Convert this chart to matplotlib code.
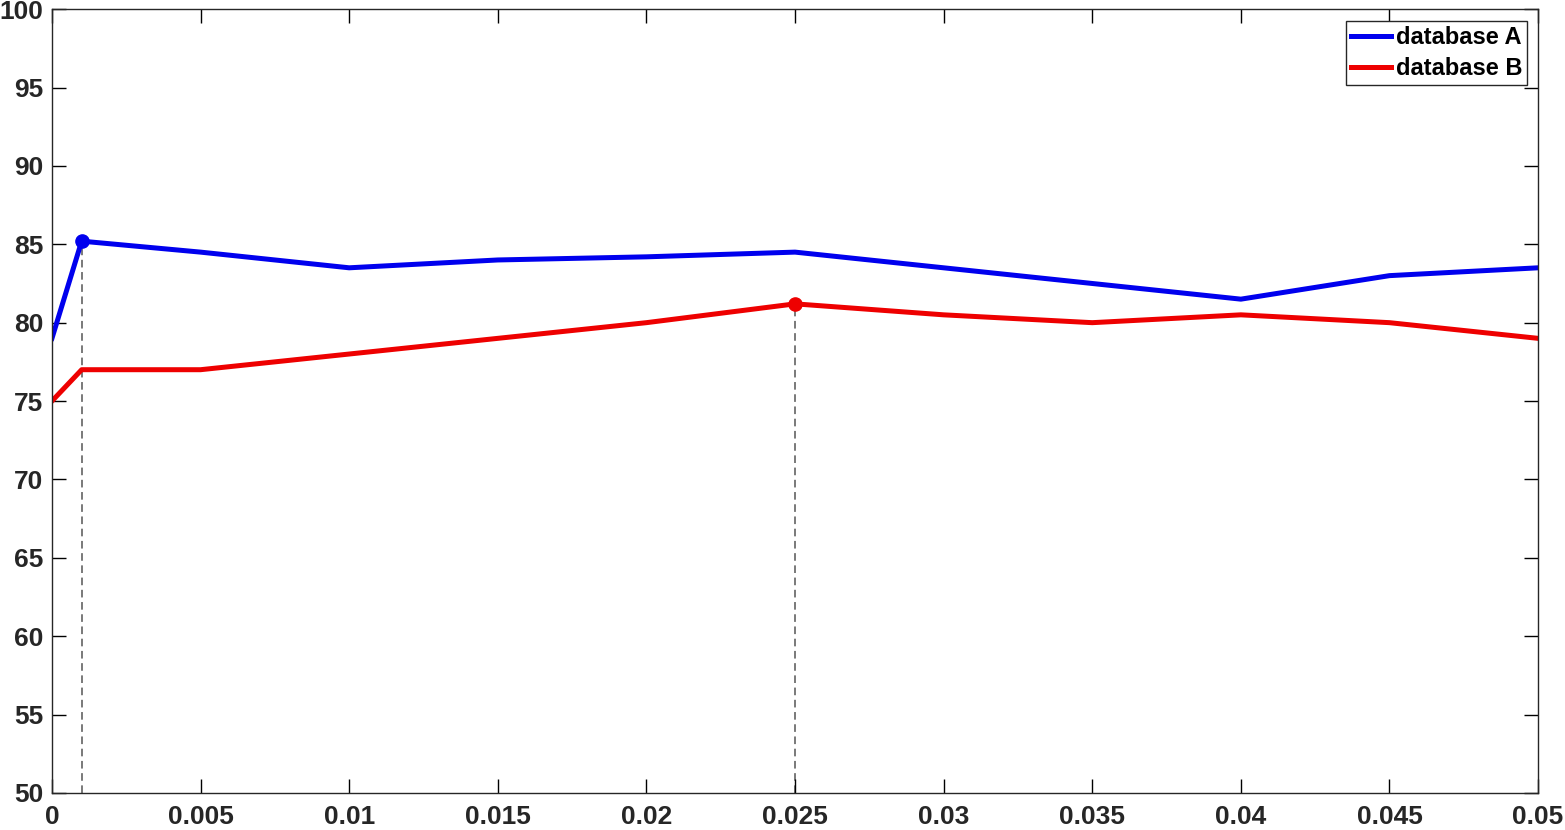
import numpy as np
import matplotlib
matplotlib.use('Agg')
from matplotlib import pyplot as plt

# values
x = [0, 0.001, 0.005, 0.01, 0.015, 0.02, 0.025, 0.03, 0.035, 0.04, 0.045, 0.05]
db_a = [79.0, 85.2, 84.5, 83.5, 84.0, 84.2, 84.5, 83.5, 82.5, 81.5, 83.0, 83.5]
db_b = [75.0, 77.0, 77.0, 78.0, 79.0, 80.0, 81.2, 80.5, 80.0, 80.5, 80.0, 79.0]
labels = ['database A', 'database B']
xticks = [0, 0.005, 0.01, 0.015, 0.02, 0.025, 0.03, 0.035, 0.04, 0.045, 0.05]
xticklabels = ['0', '0.005', '0.01', '0.015', '0.02', '0.025', '0.03', '0.035', '0.04', '0.045', '0.05']
yticks = list(range(50, 101, 5))

plt.rcParams['font.family'] = ['Liberation Sans', 'DejaVu Sans']

fig = plt.figure(figsize=(15.65, 8.3), dpi=100)
ax = fig.add_axes([0.0332, 0.0446, 0.9496, 0.9444])

ax.plot(x, db_a, color='#0000ee', lw=3.6, label=labels[0])
ax.plot(x, db_b, color='#ee0000', lw=3.6, label=labels[1])

# peak markers with dashed drop lines
ia = int(np.argmax(db_a))
ib = int(np.argmax(db_b))
ax.plot([x[ia], x[ia]], [50, db_a[ia]], ls=(0, (5, 3)), color='#555555', lw=1.1, zorder=1)
ax.plot([x[ib], x[ib]], [50, db_b[ib]], ls=(0, (5, 3)), color='#555555', lw=1.1, zorder=1)
ax.plot(x[ia], db_a[ia], 'o', color='#0000ee', ms=9.5)
ax.plot(x[ib], db_b[ib], 'o', color='#ee0000', ms=9.5)

ax.set_xlim(0, 0.05)
ax.set_ylim(50, 100)
ax.set_xticks(xticks)
ax.set_xticklabels(xticklabels)
ax.set_yticks(yticks)
ax.tick_params(direction='in', length=10, width=1, top=True, right=True,
               labelsize=19, labelcolor='#262626')
ax.tick_params(axis='x', pad=9)
ax.tick_params(axis='y', pad=6)
for lab in ax.get_xticklabels() + ax.get_yticklabels():
    lab.set_fontweight('bold')
for sp in ax.spines.values():
    sp.set_color('#262626')
    sp.set_linewidth(1)

leg = ax.legend(loc='upper right', prop={'weight': 'bold', 'size': 17},
                handlelength=1.7, handletextpad=0.2, borderpad=0.2, labelspacing=0.35,
                borderaxespad=0, fancybox=False, framealpha=1, edgecolor='#262626',
                bbox_to_anchor=(0.9926, 0.9847))
leg.get_frame().set_linewidth(1)

fig.savefig('out.png', dpi=100)
